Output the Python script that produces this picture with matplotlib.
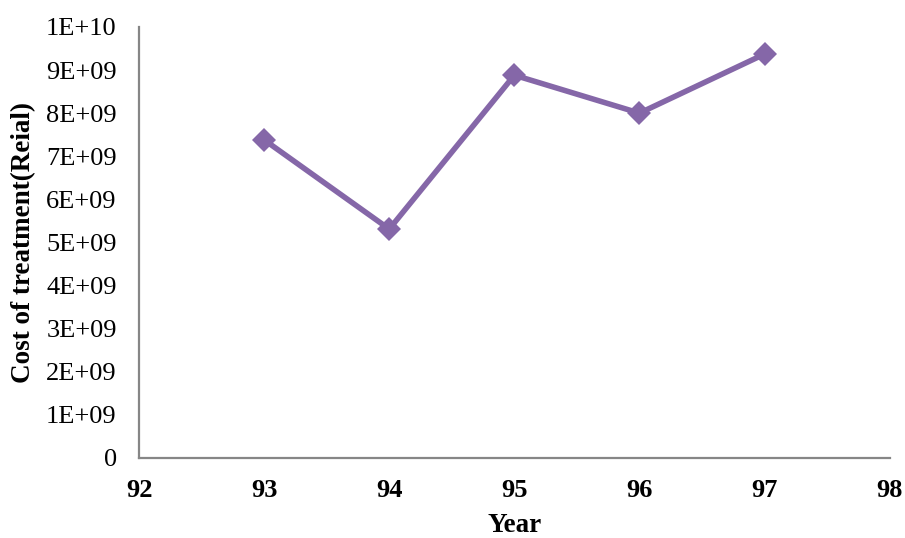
import matplotlib.pyplot as plt

years = [93, 94, 95, 96, 97]
cost = [7.38e9, 5.31e9, 8.88e9, 8.0e9, 9.37e9]
x_ticks = [92, 93, 94, 95, 96, 97, 98]
y_ticks = [i * 1e9 for i in range(11)]
y_labels = ['0', '1E+09', '2E+09', '3E+09', '4E+09', '5E+09', '6E+09',
            '7E+09', '8E+09', '9E+09', '1E+10']

plt.rcParams['font.family'] = 'Liberation Serif'

fig = plt.figure(figsize=(9.05, 5.38), dpi=100)
ax = fig.add_axes([0.1536, 0.1487, 0.8295, 0.8013])

ax.plot(years, cost, color='#8567A8', linewidth=4.0, marker='D',
        markersize=12, markeredgewidth=0, solid_joinstyle='round')

ax.set_xlim(92, 98)
ax.set_ylim(0, 1e10)
ax.set_xticks(x_ticks)
ax.set_yticks(y_ticks)
ax.set_yticklabels(y_labels)
ax.tick_params(axis='both', length=0, labelsize=19)
ax.tick_params(axis='y', pad=16)
ax.tick_params(axis='x', pad=15)
for lbl in ax.get_xticklabels():
    lbl.set_fontweight('bold')

for side in ['top', 'right']:
    ax.spines[side].set_visible(False)
for side in ['left', 'bottom']:
    ax.spines[side].set_color('#868686')
    ax.spines[side].set_linewidth(1.6)

ax.set_xlabel('Year', fontsize=19.5, fontweight='bold', labelpad=8)
ax.set_ylabel('Cost of treatment(Reial)', fontsize=19.5, fontweight='bold', labelpad=7)

fig.savefig('out.png', dpi=100)
